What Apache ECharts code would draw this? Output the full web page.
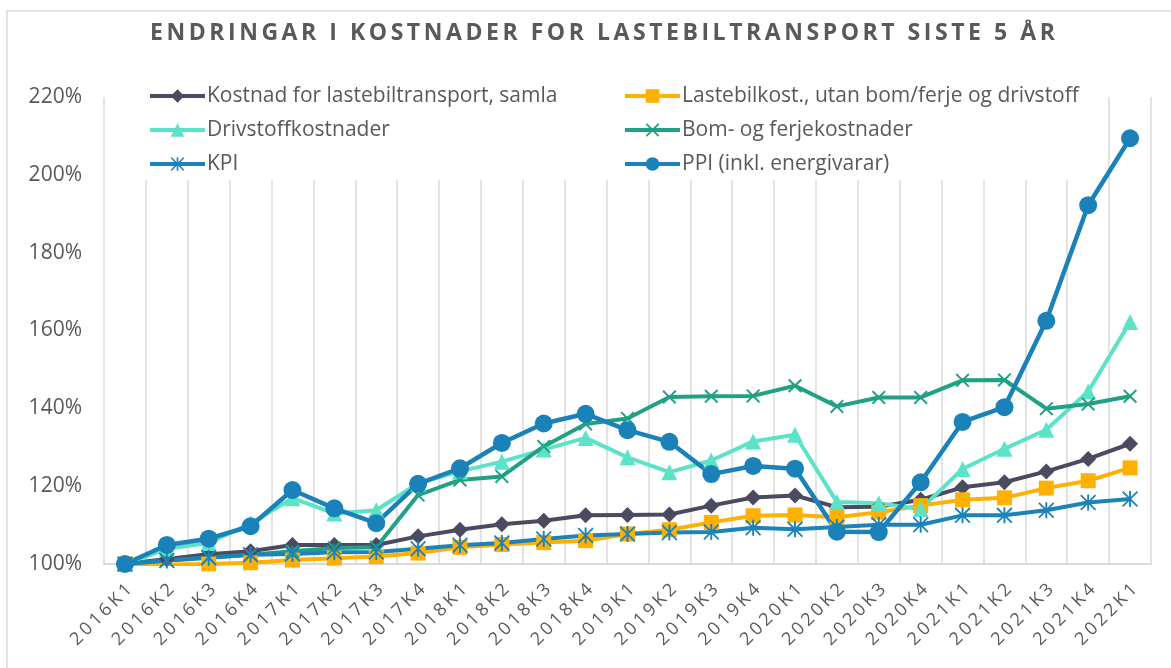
<!DOCTYPE html>
<html>
<head>
<meta charset="utf-8">
<script src="https://cdn.jsdelivr.net/npm/echarts@6/dist/echarts.min.js"></script>
<style>
html,body{margin:0;padding:0;background:#fff;}
#chart{width:1171px;height:668px;}
</style>
</head>
<body>
<div id="chart"></div>
<script>
const titleText = 'ENDRINGAR I KOSTNADER FOR LASTEBILTRANSPORT SISTE 5 ÅR';

const categories = ['2016K1','2016K2','2016K3','2016K4','2017K1','2017K2','2017K3','2017K4',
  '2018K1','2018K2','2018K3','2018K4','2019K1','2019K2','2019K3','2019K4',
  '2020K1','2020K2','2020K3','2020K4','2021K1','2021K2','2021K3','2021K4','2022K1'];

const yTicks = [100, 120, 140, 160, 180, 200, 220];

const seriesNames = [
  'Kostnad for lastebiltransport, samla',
  'Lastebilkost., utan bom/ferje og drivstoff',
  'Drivstoffkostnader',
  'Bom- og ferjekostnader',
  'KPI',
  'PPI (inkl. energivarar)'
];

const samla = [100, 101.3, 102.5, 103.3, 104.9, 104.9, 104.9, 107.1, 108.8, 110.2, 111.1, 112.5,
  112.6, 112.7, 115.0, 117.1, 117.6, 114.6, 114.7, 116.5, 119.7, 121.0, 123.8, 127.0, 130.9];
const lastebil = [100, 99.9, 100.0, 100.3, 101.0, 101.5, 101.9, 102.8, 104.3, 105.0, 105.5, 106.0,
  107.7, 108.8, 110.7, 112.4, 112.6, 112.0, 113.3, 115.0, 116.5, 117.0, 119.5, 121.4, 124.7];
const drivstoff = [100, 103.9, 105.4, 110.4, 116.9, 113.0, 113.8, 120.7, 123.8, 126.3, 129.4, 132.4,
  127.4, 123.6, 126.6, 131.5, 133.2, 115.9, 115.6, 114.1, 124.4, 129.6, 134.5, 144.3, 162.2];
const bom = [100, 100.9, 101.7, 102.4, 103.3, 104.1, 104.3, 117.7, 121.6, 122.5, 130.2, 136.0,
  137.4, 142.9, 143.1, 143.2, 145.8, 140.5, 142.8, 142.8, 147.2, 147.3, 139.9, 141.1, 143.1];
const kpi = [100, 100.9, 101.6, 102.4, 102.6, 103.0, 103.1, 103.9, 104.8, 105.4, 106.4, 107.3,
  107.7, 108.1, 108.2, 109.3, 108.9, 109.5, 110.1, 110.1, 112.5, 112.5, 113.8, 115.8, 116.7];
const ppi = [100, 104.9, 106.5, 109.7, 119.0, 114.3, 110.5, 120.6, 124.6, 131.1, 136.1, 138.6,
  134.4, 131.4, 123.1, 125.2, 124.5, 108.3, 108.2, 121.0, 136.5, 140.3, 162.5, 192.2, 209.4];

// spaced-out lettering for the title and the category labels (as in the reference),
// drawn glyph by glyph so that no canvas state is left changed
(function(){
  const proto = CanvasRenderingContext2D.prototype;
  const orig = proto.fillText;
  const catSet = new Set(categories);
  function spaced(ctx, t, x, y, sp) {
    const chars = Array.from(t);
    const widths = chars.map(c => ctx.measureText(c).width);
    const total = widths.reduce((a, b) => a + b, 0) + sp * (chars.length - 1);
    const align = ctx.textAlign;
    let cx = x;
    if (align === 'center') cx = x - total / 2;
    else if (align === 'right' || align === 'end') cx = x - total;
    ctx.textAlign = 'left';
    for (let i = 0; i < chars.length; i++) {
      orig.call(ctx, chars[i], cx, y);
      cx += widths[i] + sp;
    }
    ctx.textAlign = align;
  }
  proto.fillText = function(t, x, y, w){
    if (t === titleText) return spaced(this, t, x, y, 3.55);
    if (catSet.has(t)) return spaced(this, t, x, y, 3.3);
    return (w === undefined) ? orig.call(this, t, x, y) : orig.call(this, t, x, y, w);
  };
})();

const FONT = '"Open Sans", "Liberation Sans", sans-serif';
const TXT = '#595959';

const crossPath = 'path://M0,1 L1,0 L5,4 L9,0 L10,1 L6,5 L10,9 L9,10 L5,6 L1,10 L0,9 L4,5 Z';
const starPath = 'path://M4.4,0 L5.6,0 L5.6,10 L4.4,10 Z M0.8,0 L10,9.2 L9.2,10 L0,0.8 Z M9.2,0 L10,0.8 L0.8,10 L0,9.2 Z';

function mk(name, data, color, symbol, size, width) {
  return {
    name: name, type: 'line', data: data,
    symbol: symbol, symbolSize: size,
    showAllSymbol: true,
    lineStyle: { color: color, width: width },
    itemStyle: { color: color },
    emphasis: { disabled: true }
  };
}

const legendCommon = {
  orient: 'vertical', top: 85, itemGap: 12,
  itemWidth: 55, itemHeight: 17, padding: 0, z: 5,
  lineStyle: { width: 4 },
  textStyle: { fontFamily: FONT, fontSize: 21, color: TXT, lineHeight: 22, padding: [0, 0, 0, -3] }
};

const chart = echarts.init(document.getElementById('chart'), null, { renderer: 'canvas' });
chart.setOption({
  animation: false,
  backgroundColor: '#ffffff',
  title: {
    text: titleText,
    left: 150, top: 22, padding: 0,
    textStyle: { fontFamily: FONT, fontSize: 23, fontWeight: 'bold', color: TXT }
  },
  graphic: [
    { type: 'rect', z: 100, silent: true,
      shape: { x: 7, y: 11, width: 1200, height: 700 },
      style: { fill: 'none', stroke: '#d9d9d9', lineWidth: 1.5 } },
    { type: 'rect', z: 3, silent: true,
      shape: { x: 112, y: 88, width: 985, height: 92 },
      style: { fill: '#ffffff' } }
  ],
  legend: [
    Object.assign({}, legendCommon, { left: 148, data: [seriesNames[0], seriesNames[2], seriesNames[4]] }),
    Object.assign({}, legendCommon, { left: 623, data: [seriesNames[1], seriesNames[3], seriesNames[5]] })
  ],
  grid: { left: 104, right: 20, top: 97, bottom: 104, containLabel: false },
  xAxis: {
    type: 'category', data: categories, boundaryGap: true,
    axisLine: { lineStyle: { color: '#d9d9d9', width: 2 } },
    axisTick: { show: false },
    splitLine: { show: true, interval: 0, lineStyle: { color: '#d9d9d9', width: 1.5 } },
    axisLabel: { interval: 0, rotate: 45, margin: 27, padding: [0, -6, 0, 0],
      fontFamily: FONT, fontSize: 18, color: TXT }
  },
  yAxis: {
    type: 'value', min: yTicks[0], max: yTicks[yTicks.length - 1], interval: yTicks[1] - yTicks[0],
    axisLine: { show: false }, axisTick: { show: false }, splitLine: { show: false },
    axisLabel: { formatter: '{value}%', margin: 22, fontFamily: FONT, fontSize: 21, color: TXT }
  },
  series: [
    mk(seriesNames[0], samla, '#4A4A60', 'diamond', 16, 4),
    mk(seriesNames[1], lastebil, '#FFB000', 'rect', 15, 4),
    mk(seriesNames[2], drivstoff, '#5CE2C6', 'triangle', 16, 4),
    mk(seriesNames[3], bom, '#20A186', crossPath, 14, 4),
    mk(seriesNames[4], kpi, '#1B83BA', starPath, 16, 4),
    mk(seriesNames[5], ppi, '#1A82B8', 'circle', 18, 4.5)
  ]
});
</script>
</body>
</html>
